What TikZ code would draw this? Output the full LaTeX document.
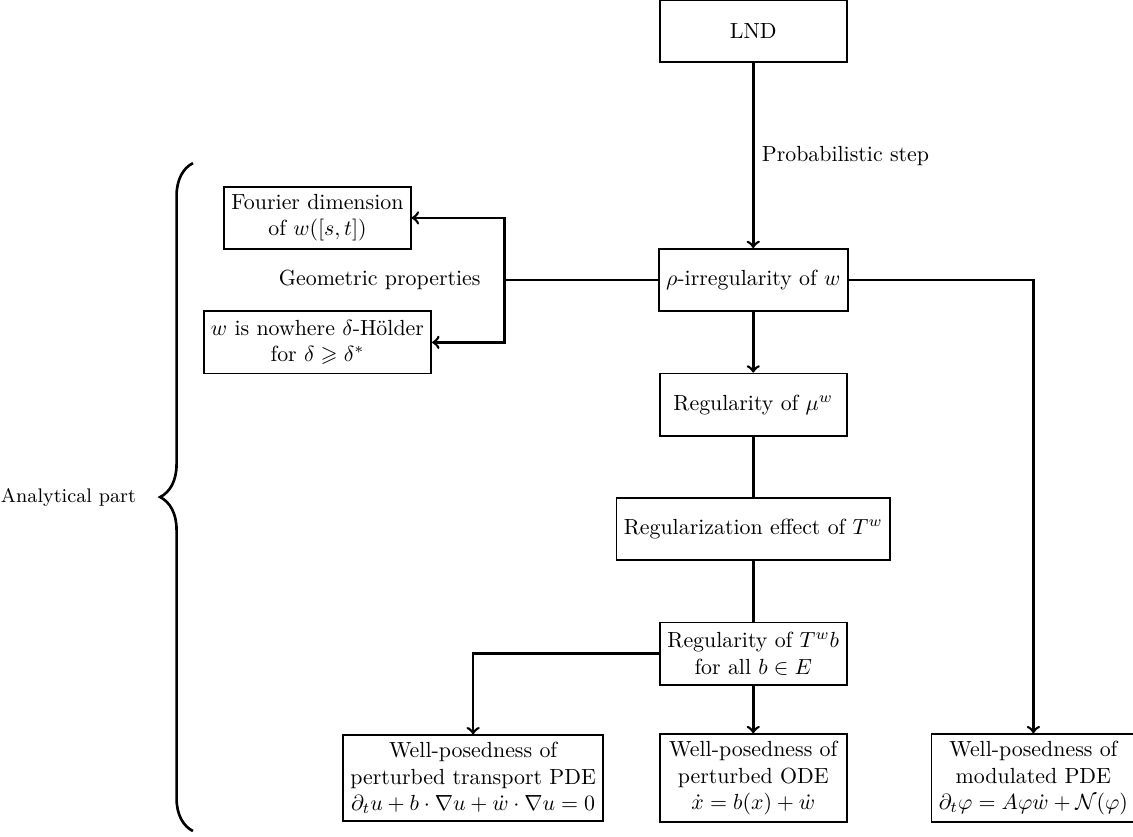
\documentclass[tikz,border=0pt]{standalone}
\usepackage{amssymb}
\usetikzlibrary{decorations.pathreplacing}
\begin{document}
\begin{tikzpicture}[
  box/.style={draw, thick, align=center, minimum width=3cm, minimum height=1cm},
  conn/.style={very thick},
  arr/.style={very thick, ->},
  plain/.style={align=center}
]
\useasboundingbox (-12.1,0.5) rectangle (6.1,-12.93);
\node[box] (lnd) at (0,0) {LND};
\node[box] (rho) at (0,-4) {$\rho$-irregularity of $w$};
\node[box] (mu) at (0,-6) {Regularity of $\mu^w$};
\node[box] (reg) at (0,-8) {Regularization effect of $T^w$};
\node[box] (twb) at (0,-10) {Regularity of $T^w b$\\ for all $b\in E$};
\node[box] (ode) at (0,-12) {Well-posedness of\\ perturbed ODE\\ $\dot x = b(x) + \dot w$};
\node[box] (tra) at (-4.5,-12) {Well-posedness of\\ perturbed transport PDE\\ $\partial_t u + b\cdot\nabla u + \dot w\cdot\nabla u = 0$};
\node[box] (mod) at (4.5,-12) {Well-posedness of\\ modulated PDE\\ $\partial_t\varphi = A\varphi\dot w + \mathcal{N}(\varphi)$};
\node[box] (four) at (-7,-3) {Fourier dimension\\ of $w([s,t])$};
\node[box] (nowh) at (-7,-5) {$w$ is nowhere $\delta$-Hölder\\ for $\delta \geqslant \delta^*$};
\node[plain] (geo) at (-6,-4) {Geometric properties};
\coordinate (j) at (-4,-4);
\coordinate (bb) at (-9,-12.85);
\coordinate (bt) at (-9,-2.12);
\node[plain, font=\small] (ana) at (-11,-7.485) {Analytical part};

\draw[arr] (lnd) -- node[midway, right] {Probabilistic step} (rho);
\draw[arr] (rho) -- (mu);
\draw[conn] (mu) -- (reg);
\draw[conn] (reg) -- (twb);
\draw[arr] (twb) -- (ode);
\draw[arr] (twb.west) -| (tra.north);
\draw[arr] (rho.east) -| (mod.north);
\draw[conn] (rho.west) -- (j);
\draw[arr] (j) |- (four.east);
\draw[arr] (j) |- (nowh.east);
\draw[very thick, decorate, decoration={brace, amplitude=15pt}] (bb) -- (bt);
\end{tikzpicture}
\end{document}
